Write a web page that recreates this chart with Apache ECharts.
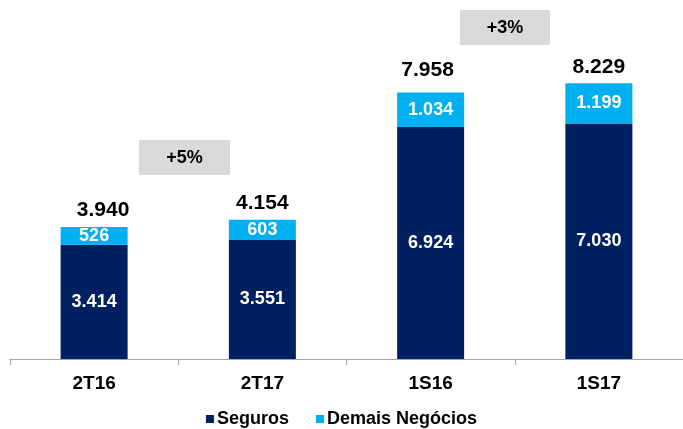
<!DOCTYPE html>
<html>
<head>
<meta charset="utf-8">
<script src="https://cdn.jsdelivr.net/npm/echarts@6/dist/echarts.min.js"></script>
<style>
  html, body { margin: 0; padding: 0; background: #fff; }
  #chart { width: 683px; height: 429px; }
</style>
</head>
<body>
<div id="chart"></div>
<script>
// dados
var categorias = ['2T16', '2T17', '1S16', '1S17'];
var seguros = [3414, 3551, 6924, 7030];
var demais = [526, 603, 1034, 1199];
var totais = [3940, 4154, 7958, 8229];

// formato 1.234
var fmt = function (v) {
    return String(v).replace(/\B(?=(\d{3})+(?!\d))/g, '.');
};

var fonte = '"Liberation Sans", Arial, sans-serif';

var box = document.getElementById('chart');
var myChart = echarts.init(box);

// rótulos de total: pequenos ajustes como no original
var totalData = totais.map(function (v, i) {
    var item = { value: v };
    if (i === 0) item.label = { offset: [9, 0] };
    if (i === 2) item.label = { offset: [-3, -6] };
    return item;
});

var labelDentro = {
    show: true,
    position: 'inside',
    fontFamily: fonte,
    fontWeight: 'bold',
    fontSize: 18,
    color: '#fff',
    formatter: function (p) { return fmt(p.value); }
};

var option = {
    animation: false,
    grid: { left: 10, right: -3, top: 24, bottom: 70 },
    legend: {
        data: ['Seguros', 'Demais Negócios'],
        top: 410,
        left: 'center',
        padding: 0,
        icon: 'rect',
        itemWidth: 8,
        itemHeight: 8,
        itemGap: 27,
        textStyle: { fontFamily: fonte, fontWeight: 'bold', fontSize: 18, color: '#000', padding: [0, 0, 0, -2] }
    },
    xAxis: {
        type: 'category',
        data: categorias,
        axisLine: { lineStyle: { color: '#A6A6A6', width: 1 } },
        axisTick: { show: true, length: 6, lineStyle: { color: '#A6A6A6' } },
        axisLabel: { margin: 15, fontFamily: fonte, fontWeight: 'bold', fontSize: 19, color: '#000' }
    },
    yAxis: {
        type: 'value',
        min: 0,
        max: 10000,
        show: false,
        splitLine: { show: false }
    },
    series: [
        {
            name: 'Total',
            type: 'bar',
            data: totalData,
            barWidth: 67,
            barGap: '-100%',
            itemStyle: { color: 'rgba(0,0,0,0)' },
            silent: true,
            z: 1,
            label: {
                show: true,
                position: 'top',
                distance: 6,
                fontFamily: fonte,
                fontWeight: 'bold',
                fontSize: 21,
                color: '#000',
                formatter: function (p) { return fmt(p.value); }
            }
        },
        {
            name: 'Seguros',
            type: 'bar',
            stack: 'tot',
            data: seguros,
            barWidth: 67,
            itemStyle: { color: '#002060' },
            z: 2,
            label: labelDentro
        },
        {
            name: 'Demais Negócios',
            type: 'bar',
            stack: 'tot',
            data: demais,
            barWidth: 67,
            itemStyle: { color: '#00B0F0' },
            z: 2,
            label: labelDentro
        }
    ],
    graphic: [
        {
            type: 'group',
            left: 139,
            top: 140,
            children: [
                { type: 'rect', shape: { x: 0, y: 0, width: 91, height: 35 }, style: { fill: '#D9D9D9' } },
                { type: 'text', x: 45.5, y: 18, style: { text: '+5%', fill: '#000', font: 'bold 18px ' + fonte, align: 'center', verticalAlign: 'middle' } }
            ]
        },
        {
            type: 'group',
            left: 460,
            top: 10,
            children: [
                { type: 'rect', shape: { x: 0, y: 0, width: 90, height: 35 }, style: { fill: '#D9D9D9' } },
                { type: 'text', x: 45, y: 18, style: { text: '+3%', fill: '#000', font: 'bold 18px ' + fonte, align: 'center', verticalAlign: 'middle' } }
            ]
        }
    ]
};

myChart.setOption(option);
</script>
</body>
</html>
